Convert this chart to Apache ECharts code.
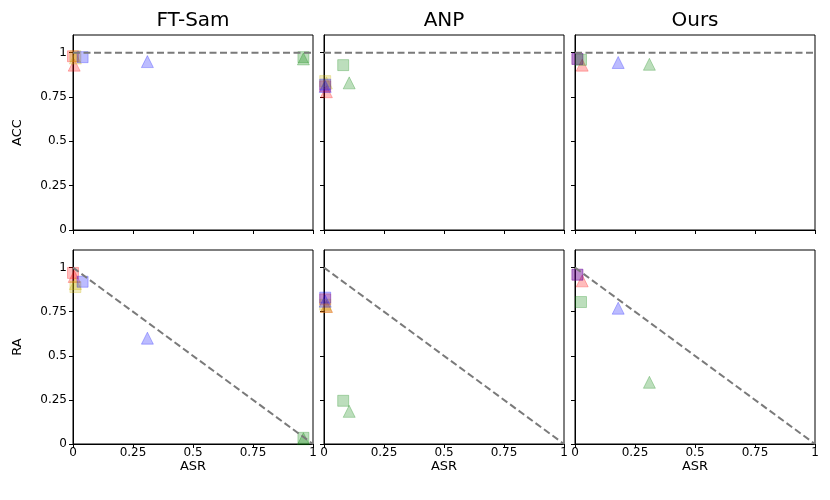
<!DOCTYPE html>
<html>
<head>
<meta charset="utf-8">
<script src="https://cdn.jsdelivr.net/npm/echarts@6/dist/echarts.min.js"></script>
<style>
  html, body { margin: 0; background: #fff; }
  #chart { width: 830px; height: 500px; }
</style>
</head>
<body>
<div id="chart"></div>
<script>
const methods = ['FT-Sam', 'ANP', 'Ours'];
const metrics = ['ACC', 'RA'];

// one slot per marker: red square, red triangle, yellow square, yellow triangle,
// blue square, blue triangle, green square, green triangle
const markerColors = ['#ff0000', '#ff0000', '#c8b400', '#c8b400', '#0000ff', '#0000ff', '#008000', '#008000'];
const markerShapes = ['rect', 'triangle', 'rect', 'triangle', 'rect', 'triangle', 'rect', 'triangle'];

const ftSamAsr = [0.0, 0.005, 0.01, 0.01, 0.04, 0.31, 0.96, 0.96];
const ftSamAcc = [0.98, 0.93, 0.98, 0.97, 0.975, 0.95, 0.975, 0.965];
const ftSamRa = [0.97, 0.95, 0.89, 0.91, 0.92, 0.6, 0.035, 0.03];

const anpAsr = [0.005, 0.01, 0.005, 0.01, 0.005, 0.005, 0.08, 0.105];
const anpAcc = [0.81, 0.78, 0.84, 0.83, 0.82, 0.81, 0.93, 0.83];
const anpRa = [0.82, 0.78, 0.79, 0.78, 0.83, 0.81, 0.245, 0.185];

const oursAsr = [0.01, 0.03, null, null, 0.01, 0.18, 0.025, 0.31];
const oursAcc = [0.965, 0.93, null, null, 0.965, 0.945, 0.96, 0.935];
const oursRa = [0.96, 0.925, null, null, 0.96, 0.77, 0.805, 0.35];

const tickValues = [0, 0.25, 0.5, 0.75, 1];

// reference lines: ACC stays at 1, RA goes from (0,1) to (1,0)
const accRefLine = [[0, 1], [1, 1]];
const raRefLine = [[0, 1], [1, 0]];

const panelData = [
    [ftSamAsr, ftSamAcc, ftSamRa],
    [anpAsr, anpAcc, anpRa],
    [oursAsr, oursAcc, oursRa]
];

const colLefts = [73, 324, 575];
const rowTops = [35, 250];
const rowHeights = [195, 194];

function alpha(hex, a) {
    const n = parseInt(hex.slice(1), 16);
    return 'rgba(' + (n >> 16) + ',' + ((n >> 8) & 255) + ',' + (n & 255) + ',' + a + ')';
}

const grids = [];
const xAxes = [];
const yAxes = [];
const series = [];
const titles = [];

methods.forEach((method, col) => {
    titles.push({
        text: method,
        left: colLefts[col] + 120,
        top: 11,
        textAlign: 'center',
        padding: 0,
        textStyle: { fontSize: 20, fontWeight: 'normal', color: '#000', fontFamily: 'DejaVu Sans' }
    });
});

metrics.forEach((metric, row) => {
    methods.forEach((method, col) => {
        const idx = grids.length;
        grids.push({
            left: colLefts[col],
            top: rowTops[row],
            width: 240,
            height: rowHeights[row],
            show: true,
            borderColor: '#000',
            borderWidth: 1,
            outerBoundsMode: 'none'
        });
        xAxes.push({
            type: 'value',
            gridIndex: idx,
            min: 0,
            max: 1,
            name: row === 1 ? 'ASR' : '',
            nameLocation: 'middle',
            nameGap: 13,
            nameTextStyle: { fontSize: 13, color: '#000', fontFamily: 'DejaVu Sans' },
            axisLine: { show: true, lineStyle: { color: '#000', width: 1 } },
            axisTick: { show: true, length: 4, customValues: tickValues, lineStyle: { color: '#000' } },
            axisLabel: {
                show: row === 1,
                customValues: tickValues,
                margin: 3,
                fontSize: 12,
                color: '#000',
                fontFamily: 'DejaVu Sans'
            },
            splitLine: { show: false }
        });
        yAxes.push({
            type: 'value',
            gridIndex: idx,
            min: 0,
            max: 1.1,
            name: col === 0 ? metric : '',
            nameLocation: 'middle',
            nameGap: 49,
            nameRotate: 90,
            nameTextStyle: { fontSize: 13, color: '#000', fontFamily: 'DejaVu Sans' },
            axisLine: { show: true, lineStyle: { color: '#000', width: 1 } },
            axisTick: { show: true, length: 4, customValues: tickValues, lineStyle: { color: '#000' } },
            axisLabel: {
                show: col === 0,
                customValues: tickValues,
                margin: 6,
                fontSize: 12,
                color: '#000',
                fontFamily: 'DejaVu Sans'
            },
            splitLine: { show: false }
        });

        const asr = panelData[col][0];
        const vals = panelData[col][row + 1];
        asr.forEach((x, i) => {
            if (x === null) return;
            series.push({
                type: 'scatter',
                xAxisIndex: idx,
                yAxisIndex: idx,
                symbol: markerShapes[i],
                symbolSize: markerShapes[i] === 'rect' ? 11 : 12,
                itemStyle: {
                    color: alpha(markerColors[i], 0.33),
                    borderColor: alpha(markerColors[i], 0.33),
                    borderWidth: 1
                },
                data: [[x, vals[i]]]
            });
        });

        series.push({
            type: 'line',
            xAxisIndex: idx,
            yAxisIndex: idx,
            showSymbol: false,
            silent: true,
            lineStyle: { color: '#7a7a7a', width: 2, type: [7, 3.5] },
            data: row === 0 ? accRefLine : raRefLine
        });
    });
});

const chart = echarts.init(document.getElementById('chart'));
chart.setOption({
    animation: false,
    backgroundColor: '#fff',
    title: titles,
    grid: grids,
    xAxis: xAxes,
    yAxis: yAxes,
    series: series
});
</script>
</body>
</html>
